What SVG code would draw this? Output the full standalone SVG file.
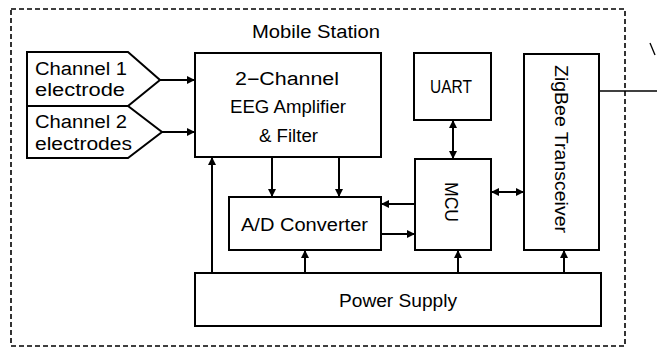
<svg xmlns="http://www.w3.org/2000/svg" width="657" height="349" viewBox="0 0 657 349">
<style>
.box{fill:#fff;stroke:#000;stroke-width:2}
.t{font-family:"Liberation Sans",Arial,sans-serif;font-size:18px;fill:#000}
.c{text-anchor:middle}
.ln{stroke:#000;stroke-width:2;fill:none}
.thin{stroke:#000;stroke-width:1.3;fill:none}
.a{marker-end:url(#ah)}
.b{marker-start:url(#ah);marker-end:url(#ah)}
</style>
<defs>
<marker id="ah" viewBox="0 0 10 10" refX="10" refY="5" markerWidth="9" markerHeight="8" markerUnits="userSpaceOnUse" orient="auto-start-reverse">
<path d="M0,0 L10,5 L0,10 z" fill="#000"/>
</marker>
</defs>
<rect width="657" height="349" fill="#fff"/>
<g id="mobile-station">
<rect x="11" y="9" width="614" height="337" fill="none" stroke="#000" stroke-width="1.6" stroke-dasharray="5,3"/>
<text class="t" x="252" y="38" textLength="128" lengthAdjust="spacingAndGlyphs">Mobile Station</text>
</g>
<g id="channel1">
<polygon class="box" points="27,52 128,52 160,80 128,106 27,106"/>
<text class="t" x="35" y="75" textLength="92" lengthAdjust="spacingAndGlyphs">Channel 1</text>
<text class="t" x="35" y="96" textLength="90" lengthAdjust="spacingAndGlyphs">electrode</text>
</g>
<g id="channel2">
<polygon class="box" points="27,106 128,106 162,132 128,158 27,158"/>
<text class="t" x="35" y="128" textLength="92" lengthAdjust="spacingAndGlyphs">Channel 2</text>
<text class="t" x="35" y="150" textLength="97" lengthAdjust="spacingAndGlyphs">electrodes</text>
</g>
<g id="amplifier">
<rect class="box" x="195" y="53" width="186" height="104"/>
<text class="t" x="235" y="85" textLength="104" lengthAdjust="spacingAndGlyphs">2−Channel</text>
<text class="t" x="230" y="113" textLength="116" lengthAdjust="spacingAndGlyphs">EEG Amplifier</text>
<text class="t" x="259" y="142" textLength="59" lengthAdjust="spacingAndGlyphs">&amp; Filter</text>
</g>
<g id="uart">
<rect class="box" x="414" y="53" width="77" height="67"/>
<text class="t" x="430" y="93" textLength="42" lengthAdjust="spacingAndGlyphs">UART</text>
</g>
<g id="zigbee">
<rect class="box" x="524" y="54" width="75" height="196"/>
<text class="t" transform="translate(555,65) rotate(90)" textLength="168" lengthAdjust="spacingAndGlyphs">ZigBee Transceiver</text>
</g>
<g id="mcu">
<rect class="box" x="415" y="159" width="76" height="91"/>
<text class="t" transform="translate(445,182) rotate(90)" textLength="40" lengthAdjust="spacingAndGlyphs">MCU</text>
</g>
<g id="adc">
<rect class="box" x="229" y="197" width="152" height="53"/>
<text class="t" x="241" y="231" textLength="127" lengthAdjust="spacingAndGlyphs">A/D Converter</text>
</g>
<g id="power">
<rect class="box" x="195" y="273" width="406" height="53"/>
<text class="t" x="339" y="307" textLength="118" lengthAdjust="spacingAndGlyphs">Power Supply</text>
</g>
<g id="connectors">
<line class="ln a" x1="160" y1="80" x2="195" y2="80"/>
<line class="ln a" x1="162" y1="132" x2="195" y2="132"/>
<line class="ln a" x1="212" y1="273" x2="212" y2="157"/>
<line class="ln a" x1="272" y1="157" x2="272" y2="197"/>
<line class="ln a" x1="339" y1="157" x2="339" y2="197"/>
<line class="ln a" x1="305" y1="273" x2="305" y2="250"/>
<line class="ln a" x1="415" y1="204" x2="381" y2="204"/>
<line class="ln a" x1="381" y1="234" x2="415" y2="234"/>
<line class="ln b" x1="453" y1="120" x2="453" y2="159"/>
<line class="ln b" x1="491" y1="192" x2="524" y2="192"/>
<line class="ln a" x1="458" y1="273" x2="458" y2="250"/>
<line class="ln a" x1="564" y1="273" x2="564" y2="250"/>
<line class="thin" x1="599" y1="91" x2="657" y2="91"/>
<line class="thin" x1="650" y1="43" x2="655" y2="55"/>
</g>
</svg>
